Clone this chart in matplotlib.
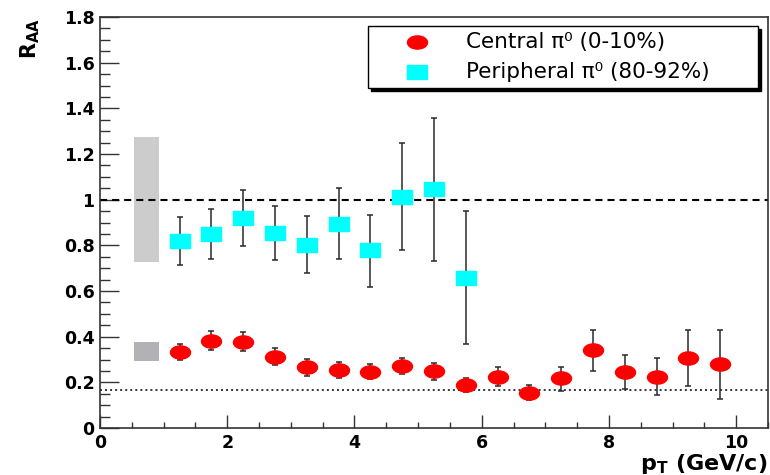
import numpy as np
import matplotlib
matplotlib.use("Agg")
import matplotlib.pyplot as plt
from matplotlib.path import Path
from matplotlib.patches import Rectangle
from matplotlib.ticker import MultipleLocator

# --- data ---
pt_central = [1.25, 1.75, 2.25, 2.75, 3.25, 3.75, 4.25, 4.75, 5.25,
              5.75, 6.25, 6.75, 7.25, 7.75, 8.25, 8.75, 9.25, 9.75]
raa_central = [0.332, 0.380, 0.375, 0.310, 0.266, 0.253, 0.245, 0.273, 0.251,
               0.187, 0.225, 0.153, 0.218, 0.340, 0.247, 0.225, 0.305, 0.280]
hi_central = [0.368, 0.425, 0.421, 0.350, 0.302, 0.289, 0.279, 0.308, 0.286,
              0.221, 0.265, 0.190, 0.269, 0.428, 0.321, 0.307, 0.428, 0.431]
lo_central = [0.297, 0.340, 0.336, 0.275, 0.229, 0.219, 0.215, 0.238, 0.210,
              0.159, 0.186, 0.121, 0.161, 0.251, 0.171, 0.143, 0.184, 0.129]

pt_periph = [1.25, 1.75, 2.25, 2.75, 3.25, 3.75, 4.25, 4.75, 5.25, 5.75]
raa_periph = [0.819, 0.851, 0.921, 0.854, 0.803, 0.895, 0.778, 1.013, 1.047, 0.659]
hi_periph = [0.924, 0.961, 1.041, 0.971, 0.927, 1.049, 0.935, 1.246, 1.357, 0.951]
lo_periph = [0.713, 0.738, 0.797, 0.735, 0.679, 0.738, 0.618, 0.778, 0.730, 0.367]

# normalisation uncertainty boxes (x centre, low, high)
box_x = 0.73
box_periph = (0.727, 1.276)
box_central = (0.292, 0.377)
ncoll_line = 0.168

xticks = [0, 2, 4, 6, 8, 10]
xtick_labels = ["0", "2", "4", "6", "8", "10"]
yticks = [0, 0.2, 0.4, 0.6, 0.8, 1.0, 1.2, 1.4, 1.6, 1.8]
ytick_labels = ["0", "0.2", "0.4", "0.6", "0.8", "1", "1.2", "1.4", "1.6", "1.8"]
labels = ["Central \u03c0\u2070 (0-10%)", "Peripheral \u03c0\u2070 (80-92%)"]

# stretched ROOT-style markers
ell = Path(Path.unit_circle().vertices * [1.0, 0.66], Path.unit_circle().codes)
rect = Path([(-1, -0.66), (1, -0.66), (1, 0.66), (-1, 0.66), (-1, -0.66)],
            [Path.MOVETO, Path.LINETO, Path.LINETO, Path.LINETO, Path.CLOSEPOLY])

W, H = 770, 475
fig = plt.figure(figsize=(W / 100, H / 100), dpi=100)
L, R, B, T = 100, 768, 428, 17
ax = fig.add_axes([L / W, 1 - B / H, (R - L) / W, (B - T) / H])
ax.set_xlim(0, 10.5)
ax.set_ylim(0, 1.8)

ax.bar(box_x, box_periph[1] - box_periph[0], bottom=box_periph[0], width=0.38,
       color="#cccccc", zorder=1)
ax.bar(box_x, box_central[1] - box_central[0], bottom=box_central[0], width=0.38,
       color="#b2b1b5", zorder=1)

ax.axhline(1.0, color="black", lw=1.5, ls=(0, (3.4, 2.4)), zorder=2)
ax.axhline(ncoll_line, color="black", lw=1.1, ls=(0, (1.3, 2.0)), zorder=2)

err_c = [np.subtract(raa_central, lo_central), np.subtract(hi_central, raa_central)]
err_p = [np.subtract(raa_periph, lo_periph), np.subtract(hi_periph, raa_periph)]
ax.errorbar(pt_central, raa_central, yerr=err_c, fmt="none", ecolor="#2a2a2a",
            elinewidth=1.1, capsize=2.2, capthick=1.1, zorder=3)
ax.errorbar(pt_periph, raa_periph, yerr=err_p, fmt="none", ecolor="#2a2a2a",
            elinewidth=1.1, capsize=2.2, capthick=1.1, zorder=3)
ax.plot(pt_central, raa_central, ls="none", marker=ell, ms=14.4, color="red",
        mec="red", zorder=4)
ax.plot(pt_periph, raa_periph, ls="none", marker=rect, ms=14.4, color="cyan",
        mec="cyan", zorder=4)

# axes styling
for s in ax.spines.values():
    s.set_color("#333333")
    s.set_linewidth(1.2)
ax.xaxis.set_minor_locator(MultipleLocator(0.5))
ax.yaxis.set_minor_locator(MultipleLocator(0.05))
ax.set_yticks(yticks)
ax.set_yticklabels(ytick_labels)
ax.set_xticks(xticks)
ax.set_xticklabels(xtick_labels)
ax.tick_params(axis="x", which="major", direction="in", length=9.3, width=1, color="#333333", pad=4)
ax.tick_params(axis="x", which="minor", direction="in", length=4.5, width=1, color="#333333")
ax.tick_params(axis="y", which="major", direction="in", length=14, width=1, color="#333333", pad=4)
ax.tick_params(axis="y", which="minor", direction="in", length=7, width=1, color="#333333")
for lab in ax.get_xticklabels() + ax.get_yticklabels():
    lab.set_fontfamily("DejaVu Sans")
    lab.set_fontweight("bold")
    lab.set_fontsize(12.5)

plt.rcParams["mathtext.fontset"] = "dejavusans"
fig.text(18 / W, 1 - 18 / H, r"$\mathbf{R_{AA}}$", rotation=90, ha="left", va="top",
         fontsize=15, fontweight="bold")
fig.text(767 / W, 1 - 464 / H, r"$\mathbf{p_T}$ (GeV/c)", ha="right", va="center",
         fontsize=16, fontweight="bold", family="DejaVu Sans")

# legend box with offset shadow, drawn in pixel positions of the reference
def axc(px, py):
    return (px - L) / (R - L), (B - py) / (B - T)

x0, y0 = axc(368, 88)
x1, y1 = axc(758, 26)
sx, sy = axc(371, 91)
ax.add_patch(Rectangle((sx, sy), x1 - x0, y1 - y0, transform=ax.transAxes,
                       color="black", zorder=5, clip_on=False))
ax.add_patch(Rectangle((x0, y0), x1 - x0, y1 - y0, transform=ax.transAxes,
                       facecolor="white", edgecolor="black", lw=1, zorder=6, clip_on=False))
mx, my1 = axc(417, 42)
_, my2 = axc(417, 72)
tx, _ = axc(466, 0)
ax.plot([mx], [my1], transform=ax.transAxes, marker=ell, ms=14.4, color="red",
        ls="none", zorder=7, clip_on=False)
ax.plot([mx], [my2], transform=ax.transAxes, marker=rect, ms=14.4, color="cyan",
        ls="none", zorder=7, clip_on=False)
for yy, lab in zip([my1, my2], labels):
    ax.text(tx, yy, lab, transform=ax.transAxes, ha="left", va="center",
            fontsize=15.5, family=["DejaVu Sans"], zorder=7)

fig.savefig("out.png", dpi=100)
